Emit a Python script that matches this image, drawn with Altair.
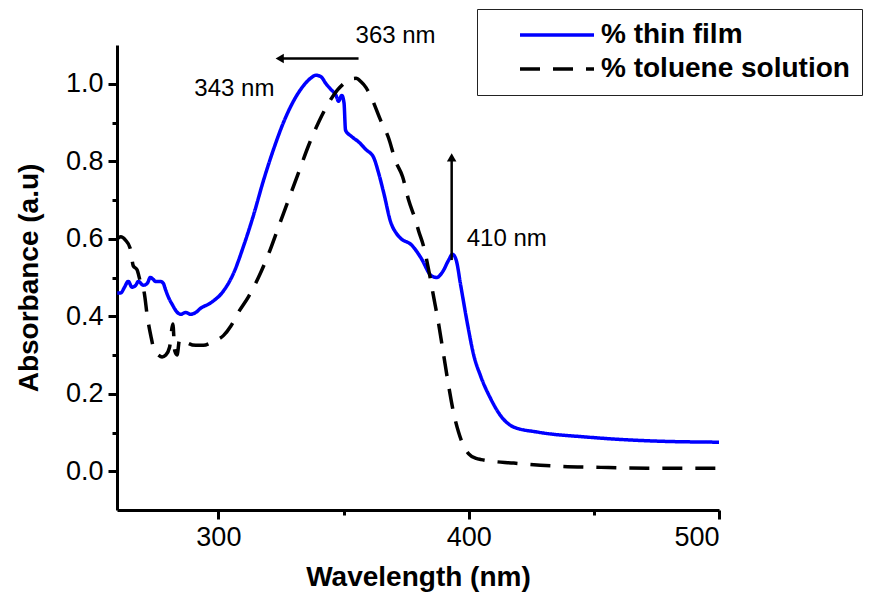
import altair as alt
import pandas as pd

# ---- data ----
film_wl = [259.6, 261, 262.5, 264, 265.5, 267, 268, 270, 271.6, 272.8, 274, 274.8, 276.8, 278, 278.8,
           280, 281.6, 283.6, 285, 287, 288.8, 291, 292.8, 296.8, 302, 306, 310, 314, 318, 322, 326,
           330, 334, 337, 339, 341, 343, 345, 347, 348, 349.3, 350.2, 350.8, 353, 356, 359, 362, 364,
           366, 369, 371, 373, 377, 381, 385, 387.2, 389.6, 392, 393.5, 395, 396.8, 399.6, 402, 404.8,
           408.8, 412.8, 418, 427.6, 447.6, 474, 500]
film_abs = [0.46, 0.46, 0.475, 0.49, 0.475, 0.48, 0.49, 0.48, 0.485, 0.50, 0.495, 0.49, 0.49, 0.485, 0.47,
            0.45, 0.43, 0.41, 0.405, 0.41, 0.405, 0.41, 0.42, 0.434, 0.465, 0.51, 0.58, 0.66, 0.75, 0.83, 0.90,
            0.955, 0.995, 1.015, 1.022, 1.018, 1.0, 0.985, 0.97, 0.955, 0.97, 0.95, 0.88, 0.865, 0.85, 0.83, 0.81, 0.77,
            0.72, 0.64, 0.615, 0.60, 0.585, 0.55, 0.505, 0.50, 0.515, 0.545, 0.56, 0.545, 0.48, 0.377, 0.30, 0.245,
            0.187, 0.143, 0.114, 0.101, 0.088, 0.078, 0.075]

tol_wl = [259.6, 261, 262.8, 264.8, 266, 267.5, 268.8, 270.4, 271.6, 273, 274.5, 276, 277.5, 279, 280.5,
          281.8, 282.6, 283.5, 284.5, 286, 288, 291, 294, 298, 302, 305, 308, 312, 316, 320, 324, 328,
          332, 336, 340, 344, 347.6, 350, 352.5, 355, 357, 359, 361, 364.8, 368, 370.8, 373.6, 376,
          378.8, 380, 382, 384, 386, 388, 390, 392, 394, 396, 398, 400, 403, 405, 418, 435.6, 452.8,
          471.6, 487.6, 500]
tol_abs = [0.60, 0.605, 0.597, 0.575, 0.53, 0.52, 0.49, 0.46, 0.40, 0.35, 0.31, 0.30, 0.295, 0.30, 0.32,
           0.38, 0.31, 0.30, 0.34, 0.34, 0.33, 0.325, 0.325, 0.335, 0.35, 0.375, 0.41, 0.45, 0.50, 0.56, 0.63, 0.70,
           0.77, 0.84, 0.90, 0.95, 0.984, 1.0, 1.012, 1.014, 1.005, 0.99, 0.966, 0.906, 0.86, 0.80, 0.76, 0.70,
           0.647, 0.62, 0.58, 0.52, 0.45, 0.38, 0.30, 0.22, 0.15, 0.10, 0.065, 0.045, 0.033, 0.03, 0.021, 0.013, 0.010,
           0.008, 0.008, 0.008]

series_names = ["% thin film", "% toluene solution"]
series_colors = ["#0000ff", "#000000"]

# annotations (data units)
ann_text = ["363 nm", "343 nm", "410 nm"]
ann_x = [370.8, 306.4, 415.2]
ann_y = [1.122, 0.987, 0.60]

harrow_x = [324.5, 356]
harrow_y = 1.065
varrow_x = 393.2
varrow_y = [0.545, 0.81]

FONT = "Liberation Sans"

df = pd.concat([
    pd.DataFrame({"wl": film_wl, "abs": film_abs, "series": series_names[0]}),
    pd.DataFrame({"wl": tol_wl, "abs": tol_abs, "series": series_names[1]}),
])

xscale = alt.Scale(domain=[259.5, 500], nice=False, zero=False)
yscale = alt.Scale(domain=[-0.1, 1.1], nice=False, zero=False)

legend = alt.Legend(
    orient="none", legendX=360, legendY=-36, title=None,
    labelFont=FONT, labelFontSize=28, labelFontWeight="bold", labelColor="black", labelLimit=500,
    symbolType="stroke", symbolSize=5476, symbolStrokeWidth=3.5, symbolOffset=29,
    labelOffset=5, padding=12, rowPadding=6, clipHeight=28,
    strokeColor="#222222", fillColor="white",
)

xaxis = alt.Axis(
    title="Wavelength (nm)", values=[300, 350, 400, 450, 500],
    labelExpr="(datum.value == 350 || datum.value == 450) ? '' : format(datum.value, 'd')",
    grid=False, domainColor="black", domainWidth=3, tickColor="black", tickWidth=3,
    tickSize={"condition": {"test": "datum.value == 350 || datum.value == 450", "value": 5}, "value": 9},
    labelFont=FONT, labelFontSize=27, labelColor="black", labelPadding=5,
    titleFont=FONT, titleFontSize=28, titleFontWeight="bold", titleColor="black", titlePadding=13,
)
yaxis = alt.Axis(
    title="Absorbance (a.u)", values=[0, 0.1, 0.2, 0.3, 0.4, 0.5, 0.6, 0.7, 0.8, 0.9, 1.0],
    labelExpr="abs(round(datum.value*10) % 2) == 1 ? '' : format(datum.value, '.1f')",
    grid=False, domainColor="black", domainWidth=3, tickColor="black", tickWidth=3,
    tickSize={"condition": {"test": "abs(round(datum.value*10) % 2) == 1", "value": 5}, "value": 9},
    labelFont=FONT, labelFontSize=27, labelColor="black", labelPadding=5,
    titleFont=FONT, titleFontSize=28, titleFontWeight="bold", titleColor="black", titlePadding=22,
)

lines = alt.Chart(df).mark_line(strokeWidth=3.5, interpolate="monotone").encode(
    x=alt.X("wl:Q", scale=xscale, axis=xaxis),
    y=alt.Y("abs:Q", scale=yscale, axis=yaxis),
    color=alt.Color("series:N", scale=alt.Scale(domain=series_names, range=series_colors), legend=legend),
    strokeDash=alt.StrokeDash("series:N", scale=alt.Scale(domain=series_names, range=[[1, 0], [20, 13]]), legend=legend),
    detail="series:N",
)

ann_df = pd.DataFrame({"t": ann_text, "x": ann_x, "y": ann_y})
texts = alt.Chart(ann_df).mark_text(font=FONT, fontSize=24, color="black").encode(
    x=alt.X("x:Q", scale=xscale), y=alt.Y("y:Q", scale=yscale), text="t:N"
)

h_df = pd.DataFrame({"x": [harrow_x[0]], "x2": [harrow_x[1]], "y": [harrow_y]})
h_rule = alt.Chart(h_df).mark_rule(color="black", strokeWidth=2.5).encode(
    x=alt.X("x:Q", scale=xscale), x2="x2:Q", y=alt.Y("y:Q", scale=yscale)
)
h_head = alt.Chart(h_df).mark_point(shape="triangle-left", filled=True, color="black", size=90, opacity=1).encode(
    x=alt.X("x:Q", scale=xscale), y=alt.Y("y:Q", scale=yscale)
)
v_df = pd.DataFrame({"x": [varrow_x], "y": [varrow_y[0]], "y2": [varrow_y[1]]})
v_rule = alt.Chart(v_df).mark_rule(color="black", strokeWidth=2.5).encode(
    x=alt.X("x:Q", scale=xscale), y=alt.Y("y:Q", scale=yscale), y2="y2:Q"
)
v_head = alt.Chart(v_df).mark_point(shape="triangle-up", filled=True, color="black", size=90, opacity=1).encode(
    x=alt.X("x:Q", scale=xscale), y=alt.Y("y2:Q", scale=yscale)
)

chart = alt.layer(lines, texts, h_rule, h_head, v_rule, v_head).properties(
    width=602, height=465,
    autosize=alt.AutoSizeParams(type="none"),
    padding={"left": 109, "top": 37, "right": 160, "bottom": 85},
).configure_view(stroke="transparent")

chart.save("out.html", embed_options={"renderer": "svg", "actions": False})
